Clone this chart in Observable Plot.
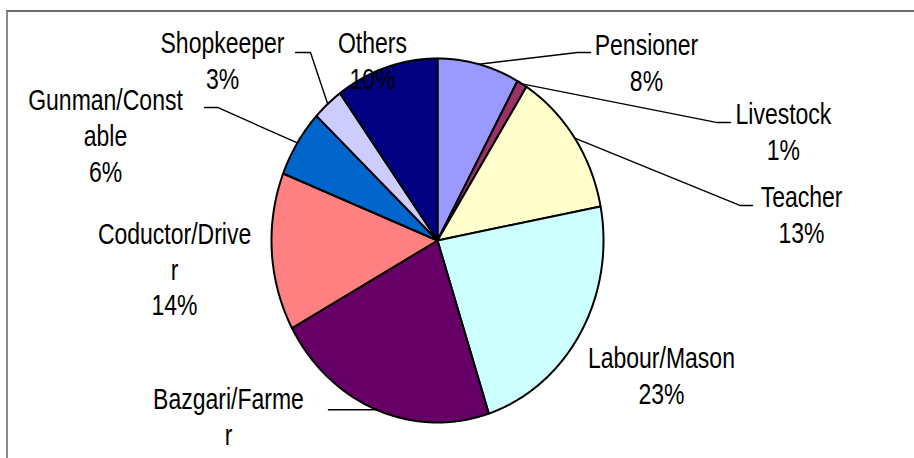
<!DOCTYPE html>
<html><head><meta charset="utf-8">
<script src="https://cdn.jsdelivr.net/npm/d3@7"></script>
<script src="https://cdn.jsdelivr.net/npm/@observablehq/plot@0.6"></script>
<style>
html,body{margin:0;padding:0;background:#fff;overflow:hidden;}
#wrap{position:relative;width:914px;height:458px;overflow:hidden;}
#border{position:absolute;left:6px;top:10px;width:940px;height:470px;border-top:2px solid #6a6a6a;border-left:2px solid #8a8a8a;}
#chart{position:absolute;left:0;top:0;}
</style></head><body>
<div id="wrap"><div id="border"></div><div id="chart"></div></div>
<script>
// ---- data ----
const categories = ["Pensioner","Livestock","Teacher","Labour/Mason","Bazgari/Farmer","Coductor/Driver","Gunman/Constable","Shopkeeper","Others"];
const percents = [8, 1, 13, 23, 22, 14, 6, 3, 10];
const labelNames = ["Pensioner","Livestock","Teacher","Labour/Mason","Bazgari/Farme\nr","Coductor/Drive\nr","Gunman/Const\nable","Shopkeeper","Others"];
const colors = ["#9999FF","#993366","#FFFFCC","#CCFFFF","#660066","#FF8080","#0066CC","#CCCCFF","#000080"];

// ---- label layout (pie unit coordinates) ----
const labelPos = [
  {x: 1.259, y: 0.824, elbow: [0.843, 1.033], end: [0.922, 1.033]},
  {x: 2.084, y: 0.44,  elbow: [1.687, 0.648], end: [1.765, 0.648]},
  {x: 2.193, y: -0.016, elbow: [1.825, 0.192], end: [1.898, 0.192]},
  {x: 1.349, y: -0.896},
  {x: -1.259, y: -1.324, elbow: null, end: [-0.657, null]},
  {x: -1.584, y: -0.412},
  {x: -2.0,  y: 0.319, elbow: [-1.325, 0.731], end: [-1.404, 0.731]},
  {x: -1.295, y: 0.835, elbow: [-0.765, 1.033], end: [-0.855, 1.033]},
  {x: -0.392, y: 0.83}
];

const arcs = d3.pie().sort(null).value(d => d)(percents);

// slice outlines
const sliceRows = [];
arcs.forEach((a, i) => {
  const name = categories[i];
  sliceRows.push({name, x: 0, y: 0});
  const n = Math.max(2, Math.ceil((a.endAngle - a.startAngle) / (Math.PI / 360)));
  for (let k = 0; k <= n; k++) {
    const t = a.startAngle + (a.endAngle - a.startAngle) * k / n;
    sliceRows.push({name, x: Math.sin(t), y: Math.cos(t)});
  }
  sliceRows.push({name, x: 0, y: 0});
});

// leader lines
const leaderRows = [];
arcs.forEach((a, i) => {
  const L = labelPos[i];
  if (!L.end) return;
  const m = (a.startAngle + a.endAngle) / 2;
  const sx = Math.sin(m), sy = Math.cos(m);
  const name = categories[i];
  leaderRows.push({name, x: sx, y: sy});
  if (L.elbow) leaderRows.push({name, x: L.elbow[0], y: L.elbow[1]});
  leaderRows.push({name, x: L.end[0], y: L.end[1] == null ? sy : L.end[1]});
});

const labels = arcs.map((a, i) => ({
  x: labelPos[i].x, y: labelPos[i].y,
  text: labelNames[i] + "\n" + percents[i] + "%"
}));

const chart = Plot.plot({
  width: 914, height: 458, margin: 0,
  style: {background: "transparent", overflow: "visible"},
  x: {domain: [-1, 1], range: [271, 603], axis: null},
  y: {domain: [-1, 1], range: [422, 58], axis: null},
  color: {domain: categories, range: colors},
  marks: [
    Plot.line(sliceRows, {x: "x", y: "y", z: "name", fill: "name", stroke: "black", strokeWidth: 2, strokeLinejoin: "round", curve: "linear"}),
    Plot.line(leaderRows, {x: "x", y: "y", z: "name", stroke: "black", strokeWidth: 1.4, curve: "linear"}),
    Plot.text(labels, {x: "x", y: "y", text: "text", lineAnchor: "bottom", lineHeight: 1.22, textAnchor: "middle",
      fontSize: 29.5, fill: "black", fontFamily: "'Liberation Sans', Arial, sans-serif"})
  ]
});
d3.select(chart).selectAll("g[aria-label=text] text").each(function() {
  const tr = this.getAttribute("transform") || "";
  this.setAttribute("transform", tr + " scale(0.78,1)");
});
document.getElementById("chart").appendChild(chart);
</script>
</body></html>
